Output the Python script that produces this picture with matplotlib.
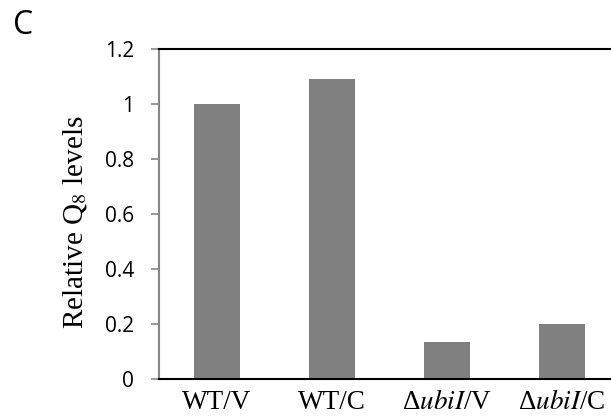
import matplotlib.pyplot as plt
import numpy as np

# sample groups and relative Q8 levels
groups = ['WT/V', 'WT/C', r'Δ$\mathit{ubiI}$/V', r'Δ$\mathit{ubiI}$/C']
q8 = [1.0, 1.09, 0.135, 0.2]
yticks = [0, 0.2, 0.4, 0.6, 0.8, 1, 1.2]
ytick_labels = ['0', '0.2', '0.4', '0.6', '0.8', '1', '1.2']

plt.rcParams['mathtext.fontset'] = 'stix'

fig = plt.figure(figsize=(6.11, 4.18), dpi=100)
# plot area runs slightly past the right edge, as in the cropped original
ax = fig.add_axes([159/611, 39/418, 460/611, 330/418])

x = np.arange(len(groups))
ax.bar(x, q8, width=0.4, color='#808080')

ax.set_xlim(-0.5, 3.5)
ax.set_ylim(0, 1.2)
ax.set_yticks(yticks)
ax.set_yticklabels(ytick_labels, fontsize=15, fontfamily='Open Sans')
ax.set_xticks(x)
ax.set_xticklabels(groups, fontsize=19.5, fontfamily='Liberation Serif')
ax.tick_params(axis='x', length=0, pad=8)
ax.tick_params(axis='y', length=6, width=1.2, color='#868686', pad=12)

ax.spines['right'].set_visible(False)
ax.spines['left'].set_color('#868686')
ax.spines['left'].set_linewidth(1.5)
ax.spines['top'].set_color('black')
ax.spines['top'].set_linewidth(1.5)
ax.spines['bottom'].set_color('black')
ax.spines['bottom'].set_linewidth(1.5)

ax.set_ylabel('Relative Q$_8$ levels', fontsize=21, fontfamily='Liberation Serif')
ax.yaxis.set_label_coords(-0.152, 0.475)

fig.text(13/611, 1 - 25/418, 'C', fontsize=23, fontfamily='Open Sans',
         ha='left', va='center')

plt.savefig('out.png')
